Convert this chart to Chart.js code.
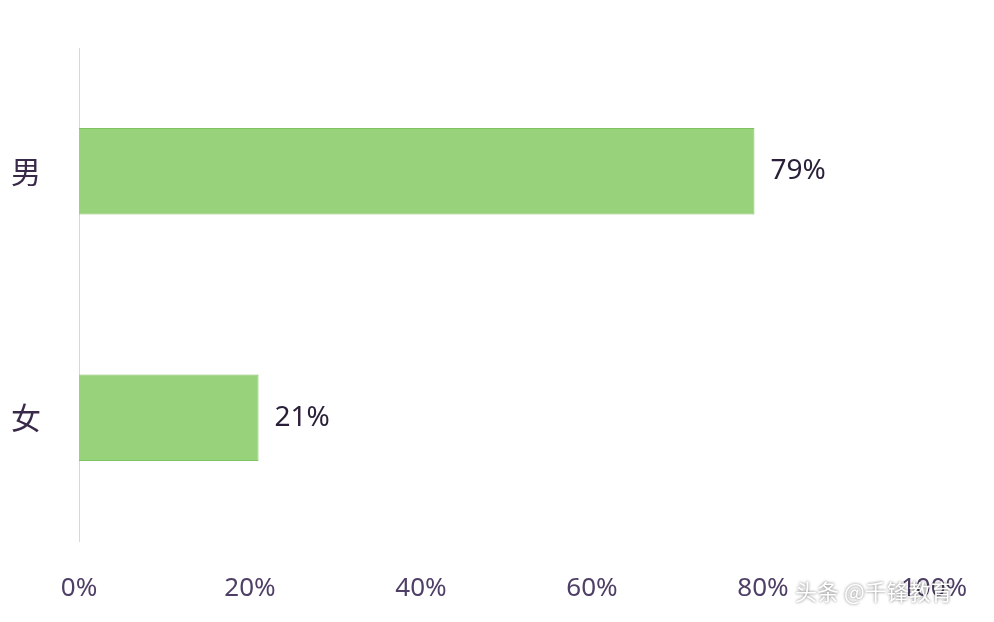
<!DOCTYPE html>
<html><head><meta charset="utf-8">
<script src="https://cdn.jsdelivr.net/npm/chart.js@4"></script>
<style>html,body{margin:0;background:#fff}#wrap{width:994px;height:622px}</style>
</head><body><div id="wrap"><canvas id="c"></canvas></div>
<script>
const categories = ['男', '女'];
const shares = [79, 21];
const xTicks = [0, 20, 40, 60, 80, 100];

const valueLabels = {
  id: 'valueLabels',
  afterDatasetsDraw(chart) {
    const ctx = chart.ctx;
    ctx.save();
    ctx.font = '28px "Noto Sans", sans-serif';
    ctx.fillStyle = '#2a1f38';
    ctx.textBaseline = 'middle';
    chart.getDatasetMeta(0).data.forEach((bar, i) => {
      ctx.fillText(shares[i] + '%', bar.x + 16, bar.y);
    });
    ctx.font = '22px "Noto Sans CJK SC", sans-serif';
    ctx.fillStyle = '#ffffff';
    ctx.shadowColor = 'rgba(0,0,0,0.6)';
    ctx.shadowBlur = 3;
    ctx.fillText('头条 @千锋教育', 795, 592);
    ctx.restore();
  }
};

new Chart(document.getElementById('c'), {
  type: 'bar',
  data: {
    labels: categories,
    datasets: [{
      data: shares,
      backgroundColor: '#98d27a',
      borderColor: '#7fc262',
      borderWidth: 1,
      categoryPercentage: 0.35,
      barPercentage: 1
    }]
  },
  options: {
    indexAxis: 'y',
    responsive: true,
    maintainAspectRatio: false,
    animation: false,
    layout: { padding: { top: -32, right: 60, left: 0, bottom: 0 } },
    scales: {
      x: {
        min: 0, max: 100,
        afterBuildTicks: (s) => { s.ticks = xTicks.map(v => ({ value: v })); },
        afterFit: (s) => { s.height = 81; },
        grid: { display: false },
        border: { display: false },
        ticks: {
          callback: (v) => v + '%',
          color: '#4f3f66',
          padding: 24,
          font: { size: 26, family: '"Noto Sans", sans-serif' }
        }
      },
      y: {
        afterFit: (s) => { s.width = 79; },
        grid: { display: false },
        border: { color: '#d4d8e2', width: 1 },
        ticks: {
          color: '#3a2a4a',
          padding: 30,
          font: { size: 30, family: '"Noto Sans CJK SC", sans-serif' }
        }
      }
    },
    plugins: { legend: { display: false }, tooltip: { enabled: false } }
  },
  plugins: [valueLabels]
});
</script></body></html>
